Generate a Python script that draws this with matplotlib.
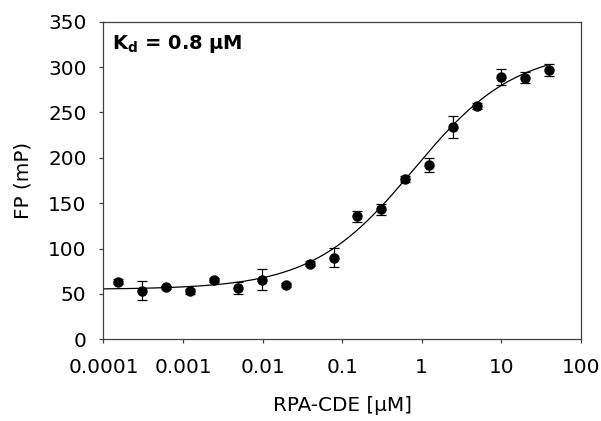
import numpy as np
import matplotlib
matplotlib.use("Agg")
import matplotlib.pyplot as plt
from matplotlib.ticker import FixedLocator, FixedFormatter, NullLocator

plt.rcParams['font.family'] = ['DejaVu Sans']
plt.rcParams['mathtext.fontset'] = 'dejavusans'

# Data (RPA-CDE concentration in uM, FP in mP, error)
conc = [0.000153, 0.000305, 0.00061, 0.00122, 0.00244, 0.00488, 0.00977,
        0.0195, 0.039, 0.078, 0.156, 0.3125, 0.625, 1.25, 2.5, 5, 10, 20, 40]
fp = [63.5, 53.5, 57.3, 53.0, 65.5, 56.5, 65.7, 59.8, 83.5, 90.0, 135.5,
      143.3, 176.5, 192.0, 234.0, 257.0, 289.0, 288.3, 297.0]
err = [3.0, 10.5, 2.0, 3.0, 2.0, 6.6, 11.4, 2.5, 3.0, 10.7, 6.0, 6.0,
       3.0, 8.0, 12.5, 3.0, 8.6, 6.4, 6.6]

# Fit parameters (Hill model)
fit_bottom = 55.0
fit_top = 320.0
fit_kd = 0.8
fit_n = 0.68

xticks = [0.0001, 0.001, 0.01, 0.1, 1, 10, 100]
xtick_labels = ["0.0001", "0.001", "0.01", "0.1", "1", "10", "100"]
yticks = [0, 50, 100, 150, 200, 250, 300, 350]

fig = plt.figure(figsize=(6.01, 4.21), dpi=100)
ax = fig.add_axes([0.1722, 0.194, 0.794, 0.7545])

xf = np.logspace(-4, np.log10(40), 300)
yf = fit_bottom + (fit_top - fit_bottom) * (xf / fit_kd) ** fit_n / (1 + (xf / fit_kd) ** fit_n)
ax.plot(xf, yf, color='black', lw=0.9, zorder=2)

ax.errorbar(conc, fp, yerr=err, fmt='o', color='black', ms=6.5,
            ecolor='black', elinewidth=0.9, capsize=3.4, capthick=0.9, zorder=3)

ax.set_xscale('log')
ax.set_xlim(0.0001, 100)
ax.set_ylim(0, 350)
ax.xaxis.set_major_locator(FixedLocator(xticks))
ax.xaxis.set_major_formatter(FixedFormatter(xtick_labels))
ax.xaxis.set_minor_locator(NullLocator())
ax.set_yticks(yticks)

for s in ax.spines.values():
    s.set_color('#404040')
    s.set_linewidth(0.9)

ax.tick_params(axis='both', which='major', direction='out', length=3.2,
               width=0.9, color='#404040', labelsize=14.4)
ax.tick_params(axis='x', pad=10)
ax.tick_params(axis='y', pad=9)

ax.set_xlabel("RPA-CDE [\u03bcM]", fontsize=14.4, labelpad=14)
ax.set_ylabel("FP (mP)", fontsize=14.4, labelpad=11)

ax.text(0.018, 0.965, r"$\mathbf{K_d}$" + " = 0.8 \u00b5M", transform=ax.transAxes,
        fontsize=14, fontweight='bold', ha='left', va='top')

fig.savefig("out.png", dpi=100)
